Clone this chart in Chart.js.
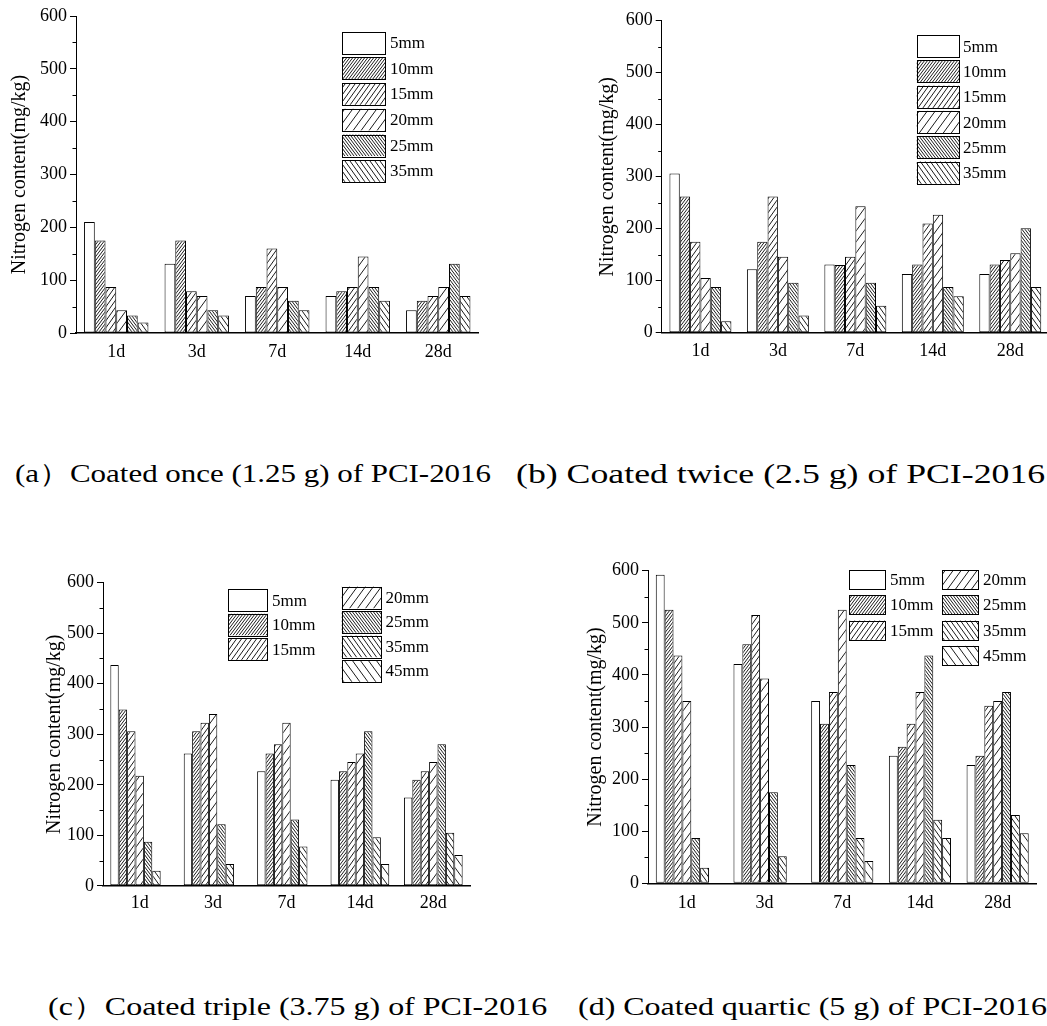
<!DOCTYPE html>
<html><head><meta charset="utf-8">
<script src="https://cdn.jsdelivr.net/npm/chart.js@4.4.0/dist/chart.umd.min.js"></script>
<style>
html,body{margin:0;padding:0;background:#fff;overflow:hidden;width:1047px;height:1026px;position:relative;}
canvas{position:absolute;}
.cap{position:absolute;font-family:'Liberation Serif','Times New Roman',serif;font-size:26px;color:#000;white-space:nowrap;transform-origin:0 50%;line-height:1;}
</style></head><body>
<canvas id="ca" width="500" height="380" style="left:0px;top:0px"></canvas>
<canvas id="cb" width="540" height="380" style="left:520px;top:0px"></canvas>
<canvas id="cc" width="500" height="380" style="left:0px;top:550px"></canvas>
<canvas id="cd" width="540" height="380" style="left:520px;top:550px"></canvas>
<div class="cap" style="left:15px;top:461px;transform:scaleX(1.19)">(a）Coated once (1.25 g) of PCI-2016</div>
<div class="cap" style="left:516px;top:460px;font-size:27.5px;transform:scaleX(1.3)">(b) Coated twice (2.5 g) of PCI-2016</div>
<div class="cap" style="left:48px;top:994px;transform:scaleX(1.23)">(c）Coated triple (3.75 g) of PCI-2016</div>
<div class="cap" style="left:578px;top:994px;transform:scaleX(1.23)">(d) Coated quartic (5 g) of PCI-2016</div>
<script>
// ---------- data ----------
const days = ['1d', '3d', '7d', '14d', '28d'];
const yTitle = 'Nitrogen content(mg/kg)';
const seriesSix = ['5mm', '10mm', '15mm', '20mm', '25mm', '35mm'];
const seriesSeven = ['5mm', '10mm', '15mm', '20mm', '25mm', '35mm', '45mm'];

// (a) coated once
const a5mm  = [210, 131, 70, 70, 43];
const a10mm = [175, 175, 87, 79, 61];
const a15mm = [87, 79, 160, 87, 70];
const a20mm = [43, 70, 87, 145, 87];
const a25mm = [33, 43, 61, 87, 131];
const a35mm = [20, 33, 43, 61, 70];

// (b) coated twice
const b5mm  = [306, 122, 131, 113, 113];
const b10mm = [262, 175, 130, 131, 131];
const b15mm = [175, 262, 146, 210, 140];
const b20mm = [105, 146, 243, 227, 153];
const b25mm = [88, 96, 96, 88, 201];
const b35mm = [22, 33, 52, 70, 88];

// (c) coated triple
const c5mm  = [437, 262, 227, 210, 175];
const c10mm = [349, 306, 262, 227, 210];
const c15mm = [306, 323, 280, 245, 227];
const c20mm = [218, 340, 323, 262, 245];
const c25mm = [87, 122, 131, 306, 280];
const c35mm = [30, 43, 78, 96, 105];
const c45mm = [null, null, null, 43, 61];

// (d) coated quartic
const d5mm  = [592, 421, 350, 245, 227];
const d10mm = [525, 459, 306, 262, 245];
const d15mm = [437, 515, 367, 306, 341];
const d20mm = [350, 393, 525, 367, 350];
const d25mm = [87, 175, 227, 437, 367];
const d35mm = [30, 52, 87, 122, 131];
const d45mm = [null, null, 43, 87, 96];

// ---------- styling helpers ----------
const FONT = "'Liberation Serif', 'Times New Roman', serif";
const hatchSpec = {
  '5mm': null,
  '10mm': {step: 3, dir: 1},
  '15mm': {step: 5, dir: 1},
  '20mm': {step: 8, dir: 1},
  '25mm': {step: 3, dir: -1},
  '35mm': {step: 5, dir: -1},
  '45mm': {step: 8, dir: -1}
};
function makeFill(ctx, label) {
  const sp = hatchSpec[label];
  if (!sp) return '#ffffff';
  const w = sp.step, h = Math.round(sp.step * 1.35);
  const t = document.createElement('canvas');
  t.width = w; t.height = h;
  const g = t.getContext('2d');
  g.fillStyle = '#fff'; g.fillRect(0, 0, w, h);
  g.strokeStyle = '#000'; g.lineWidth = 0.9;
  g.beginPath();
  for (let k = -1; k <= 1; k++) {
    if (sp.dir > 0) { g.moveTo(k * w, h); g.lineTo(k * w + w, 0); }
    else { g.moveTo(k * w, 0); g.lineTo(k * w + w, h); }
  }
  g.stroke();
  return ctx.createPattern(t, 'repeat');
}

const hatchLegend = {
  id: 'hatchLegend',
  afterDraw(chart, args, o) {
    if (!o || !o.columns) return;
    const ctx = chart.ctx;
    ctx.save();
    ctx.font = o.fontSize + 'px ' + FONT;
    ctx.textBaseline = 'middle';
    ctx.textAlign = 'left';
    let idx = 0;
    const ds = chart.data.datasets;
    o.columns.forEach(col => {
      for (let r = 0; r < col.count && idx < ds.length; r++, idx++) {
        const x = col.x, y = col.y + r * o.step;
        ctx.fillStyle = ds[idx].backgroundColor;
        ctx.fillRect(x, y, o.boxW, o.boxH);
        ctx.strokeStyle = '#000'; ctx.lineWidth = 1;
        ctx.strokeRect(Math.round(x) + 0.5, Math.round(y) + 0.5, Math.round(o.boxW), Math.round(o.boxH));
        ctx.fillStyle = '#000';
        ctx.fillText(ds[idx].label, x + o.boxW + o.gap, y + o.boxH / 2 + 1);
      }
    });
    ctx.restore();
  }
};

const minorTicks = {
  id: 'minorTicks',
  afterDraw(chart) {
    const s = chart.scales.y, ctx = chart.ctx;
    ctx.save();
    ctx.strokeStyle = '#000'; ctx.lineWidth = 1;
    ctx.beginPath();
    for (let i = 0; i < s.ticks.length - 1; i++) {
      const v = (s.ticks[i].value + s.ticks[i + 1].value) / 2;
      const y = Math.round(s.getPixelForValue(v)) + 0.5;
      ctx.moveTo(s.right - 3.5, y); ctx.lineTo(s.right, y);
    }
    ctx.stroke();
    ctx.restore();
  }
};

function makeChart(id, labels, values, L) {
  const ctx = document.getElementById(id).getContext('2d');
  const datasets = labels.map((lab, i) => ({
    label: lab,
    data: values[i],
    backgroundColor: makeFill(ctx, lab),
    borderColor: '#000',
    borderWidth: 1,
    borderSkipped: false,
    barPercentage: 1,
    categoryPercentage: 0.8
  }));
  return new Chart(ctx, {
    type: 'bar',
    data: {labels: days, datasets},
    options: {
      responsive: false,
      animation: false,
      devicePixelRatio: 1,
      layout: {padding: {left: L.padL, right: L.padR, top: L.padT, bottom: 0}},
      plugins: {legend: {display: false}, tooltip: {enabled: false}, hatchLegend: L.legend},
      scales: {
        x: {
          grid: {display: false, drawTicks: false},
          border: {display: true, color: '#000', width: 1.5},
          ticks: {font: {family: FONT, size: 18}, color: '#000', padding: L.xPad},
          afterFit: s => { s.height = L.xH; }
        },
        y: {
          min: 0, max: 600,
          ticks: {stepSize: 100, font: {family: FONT, size: 18}, color: '#000', padding: 3},
          grid: {display: true, drawOnChartArea: false, drawTicks: true, tickLength: 6, color: '#000', lineWidth: 1},
          border: {display: true, color: '#000', width: 1},
          title: {display: true, text: yTitle, font: {family: FONT, size: 20}, color: '#000', padding: {top: 8, bottom: 0}},
          afterFit: s => { s.width = L.yW; }
        }
      }
    },
    plugins: [hatchLegend, minorTicks]
  });
}

makeChart('ca', seriesSix, [a5mm, a10mm, a15mm, a20mm, a25mm, a35mm], {
  padL: 0, yW: 76, padR: 21.5, padT: 16, xH: 47, xPad: 8,
  legend: {columns: [{x: 342, y: 31.7, count: 6}], boxW: 43, boxH: 21.6, step: 25.7, gap: 5, fontSize: 17}
});
makeChart('cb', seriesSix, [b5mm, b10mm, b15mm, b20mm, b25mm, b35mm], {
  padL: 68, yW: 73.7, padR: 11, padT: 20.7, xH: 47.3, xPad: 8,
  legend: {columns: [{x: 396.7, y: 35, count: 6}], boxW: 42.3, boxH: 22.3, step: 25.3, gap: 4, fontSize: 17}
});
makeChart('cc', seriesSeven, [c5mm, c10mm, c15mm, c20mm, c25mm, c35mm, c45mm], {
  padL: 35, yW: 68, padR: 30, padT: 32.7, xH: 44.2, xPad: 6.4,
  legend: {columns: [{x: 228.3, y: 39.3, count: 3}, {x: 341.7, y: 36.7, count: 4}], boxW: 39.4, boxH: 21.5, step: 24.5, gap: 4.4, fontSize: 17}
});
makeChart('cd', seriesSeven, [d5mm, d10mm, d15mm, d20mm, d25mm, d35mm, d45mm], {
  padL: 55.5, yW: 72.5, padR: 23.5, padT: 20.7, xH: 46.7, xPad: 8.9,
  legend: {columns: [{x: 329.3, y: 20, count: 3}, {x: 422.3, y: 20, count: 4}], boxW: 35.7, boxH: 19.3, step: 25.3, gap: 5, fontSize: 17}
});
</script>
</body></html>
